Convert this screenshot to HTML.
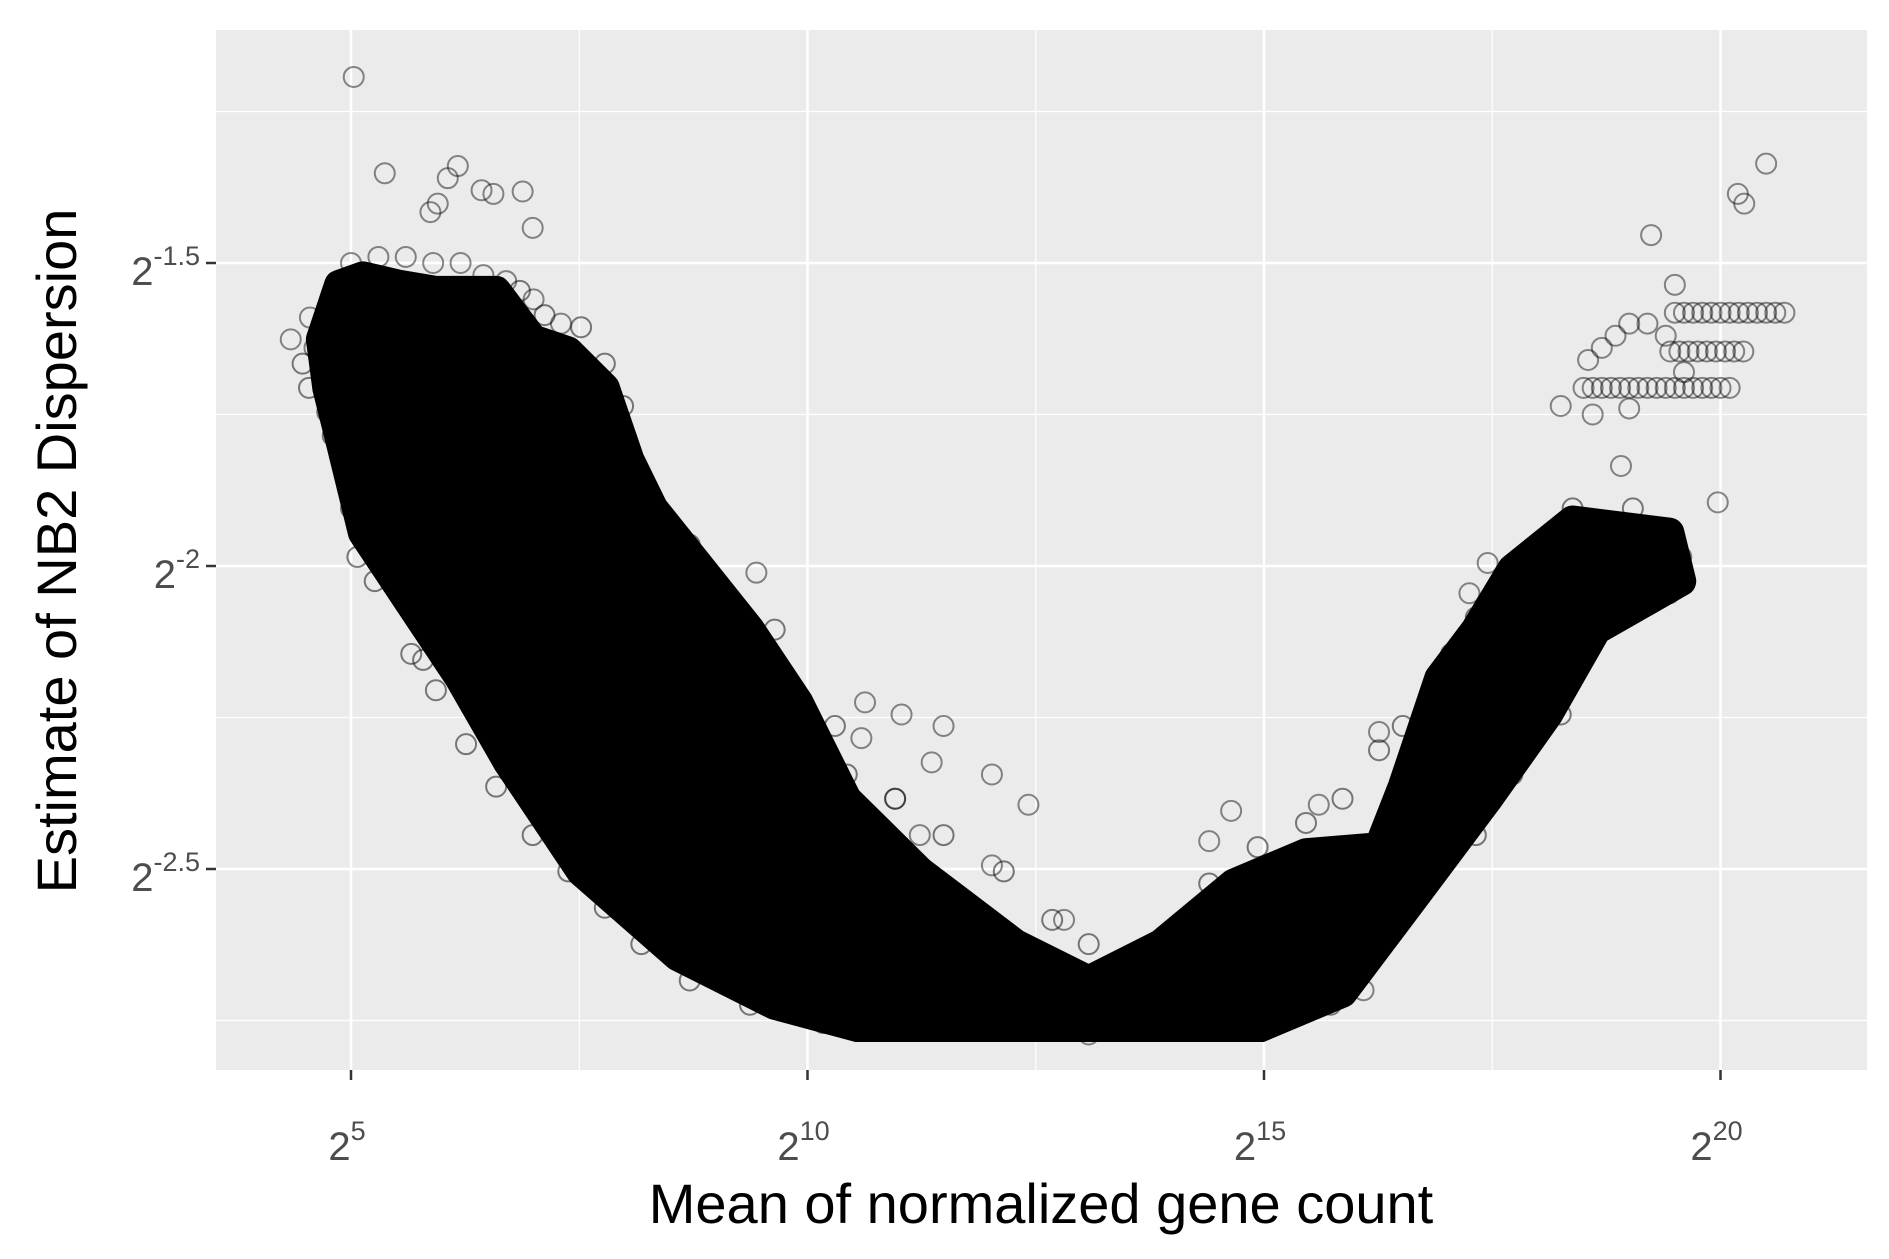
<!DOCTYPE html>
<html><head><meta charset="utf-8"><style>
html,body{margin:0;padding:0;background:#fff;}
svg{display:block;font-family:"Liberation Sans",sans-serif;}
</style></head><body>
<svg id="chart" width="1889" height="1259" viewBox="0 0 1889 1259" xmlns="http://www.w3.org/2000/svg">
<defs><clipPath id="floorClip"><rect x="216" y="30" width="1651" height="1012"/></clipPath></defs>
<rect x="216" y="30" width="1651" height="1040" fill="#ebebeb"/>
<g id="grid"></g>
<g id="marks"></g>
<g id="axes"></g>
<text x="1041" y="1223" font-size="56" text-anchor="middle" fill="#000">Mean of normalized gene count</text>
<text transform="translate(76,551) rotate(-90)" font-size="56" text-anchor="middle" fill="#000">Estimate of NB2 Dispersion</text>
</svg>
<script>
const xTicks = [5, 10, 15, 20];
const xTickLabels = ["5", "10", "15", "20"];
const yTicks = [-1.5, -2, -2.5];
const yTickLabels = ["-1.5", "-2", "-2.5"];
const xMinor = [7.5, 12.5, 17.5];
const yMinor = [-1.25, -1.75, -2.25, -2.75];
// dense mass envelope (log2 mean, log2 dispersion)
const envX = [4.67,4.87,5.13,5.53,5.93,6.59,6.99,7.38,7.78,8.05,8.31,8.84,9.37,9.90,10.43,11.23,12.28,13.08,13.87,14.67,15.46,16.26,16.52,16.92,17.32,17.72,18.38,19.44,19.57,18.64,18.11,17.45,16.66,15.86,14.93,13.08,10.70,9.64,8.58,7.52,6.72,6.19,5.66,5.13,4.87,4.74];
const envY = [-1.626,-1.536,-1.522,-1.536,-1.546,-1.546,-1.626,-1.646,-1.706,-1.825,-1.905,-2.005,-2.105,-2.225,-2.385,-2.504,-2.624,-2.684,-2.624,-2.524,-2.474,-2.464,-2.364,-2.185,-2.105,-2.005,-1.925,-1.945,-2.025,-2.105,-2.245,-2.385,-2.544,-2.704,-2.763,-2.773,-2.767,-2.724,-2.644,-2.504,-2.324,-2.185,-2.065,-1.945,-1.785,-1.706];
// fringe points around the dense mass
const fringeX = [4.47,4.54,4.74,4.80,5.00,5.07,5.26,5.66,5.79,5.93,6.26,6.59,6.99,7.38,7.78,8.18,8.71,9.37,10.17,
 6.85,7.12,7.52,7.78,7.98,8.18,8.38,8.71,8.97,9.24,9.64,9.77,10.30,10.43,10.96,11.49,12.15,12.68,13.08,
 14.40,14.93,15.46,15.86,16.26,16.52,17.05,17.32,17.85,18.38,19.04,19.57,19.44,18.77,18.38,18.25,17.72,17.32,16.92,16.39,15.73,15.20];
const fringeY = [-1.666,-1.706,-1.746,-1.785,-1.905,-1.985,-2.025,-2.145,-2.155,-2.205,-2.294,-2.364,-2.444,-2.504,-2.564,-2.624,-2.684,-2.724,-2.754,
 -1.546,-1.586,-1.606,-1.666,-1.736,-1.865,-1.925,-1.965,-2.025,-2.085,-2.105,-2.185,-2.264,-2.344,-2.384,-2.444,-2.504,-2.584,-2.624,
 -2.524,-2.464,-2.424,-2.384,-2.304,-2.264,-2.145,-2.085,-1.985,-1.905,-1.905,-1.985,-2.045,-2.085,-2.145,-2.245,-2.344,-2.444,-2.484,-2.584,-2.724,-2.744];
// scattered points
const ptX = [5.03,5.37,6.17,6.06,6.43,6.56,6.88,6.99,5.95,5.87,4.34,9.44,10.63,11.03,10.59,11.36,12.42,14.64,16.09,20.50,20.19,20.26,19.24,19.50,18.25,19.97,18.91,17.45,17.25,16.26,15.60,14.40,12.81,12.02,11.23,10.96,11.49,12.02,
 19.5,19.6,19.7,19.8,19.9,20.0,20.1,20.2,20.3,20.4,20.5,20.6,20.7,19.45,19.55,19.65,19.75,19.85,19.95,20.05,20.15,20.25,18.5,18.6,18.7,18.8,18.9,19.0,19.1,19.2,19.3,19.4,19.5,19.6,19.7,19.8,19.9,20.0,20.1,18.55,18.7,18.85,19.0,19.2,19.4,19.6,18.6,19.0,4.55,4.6,4.75,5.0,5.3,5.6,5.9,6.2,6.45,6.7,7.0,7.3];
const ptY = [-1.193,-1.352,-1.340,-1.360,-1.380,-1.386,-1.382,-1.442,-1.402,-1.416,-1.626,-2.011,-2.225,-2.245,-2.284,-2.324,-2.394,-2.404,-2.700,-1.336,-1.386,-1.402,-1.454,-1.536,-1.736,-1.895,-1.835,-1.995,-2.045,-2.274,-2.394,-2.454,-2.584,-2.494,-2.444,-2.384,-2.264,-2.344,
 -1.582,-1.582,-1.582,-1.582,-1.582,-1.582,-1.582,-1.582,-1.582,-1.582,-1.582,-1.582,-1.582,-1.646,-1.646,-1.646,-1.646,-1.646,-1.646,-1.646,-1.646,-1.646,-1.706,-1.706,-1.706,-1.706,-1.706,-1.706,-1.706,-1.706,-1.706,-1.706,-1.706,-1.706,-1.706,-1.706,-1.706,-1.706,-1.706,-1.66,-1.64,-1.62,-1.6,-1.6,-1.62,-1.68,-1.75,-1.74,-1.59,-1.64,-1.7,-1.5,-1.49,-1.49,-1.5,-1.5,-1.52,-1.53,-1.56,-1.6];

const NS = "http://www.w3.org/2000/svg";
const px0 = 351, pxPer = 91.3;
const py0 = 263, pyPer = 606;
const sx = v => px0 + (v - 5) * pxPer;
const sy = v => py0 - (v + 1.5) * pyPer;
function mk(tag, parent, attrs) { const e = document.createElementNS(NS, tag); for (const k in attrs) e.setAttribute(k, attrs[k]); parent.appendChild(e); return e; }

const grid = document.getElementById('grid');
xMinor.forEach(v => { const l = mk('line', grid, {x1: sx(v), x2: sx(v), y1: 30, y2: 1070, stroke: '#fff', 'stroke-width': 1.2});
  
   });
yMinor.forEach(v => { const l = mk('line', grid, {x1: 216, x2: 1867, y1: sy(v), y2: sy(v), stroke: '#fff', 'stroke-width': 1.2});
  
   });
xTicks.forEach(v => { const l = mk('line', grid, {x1: sx(v), x2: sx(v), y1: 30, y2: 1070, stroke: '#fff', 'stroke-width': 2.5});
  
   });
yTicks.forEach(v => { const l = mk('line', grid, {x1: 216, x2: 1867, y1: sy(v), y2: sy(v), stroke: '#fff', 'stroke-width': 2.5});
  
   });

const marks = document.getElementById('marks');
const pts = envX.map((x, i) => sx(x) + ',' + sy(envY[i])).join(' ');
const poly = mk('polygon', marks, {points: pts, fill: '#000', stroke: '#000', 'stroke-width': 30, 'stroke-linejoin': 'round', 'clip-path': 'url(#floorClip)'});


envX.forEach((x, i) => {
  const c = mk('circle', marks, {cx: sx(x), cy: sy(envY[i]), r: 10, fill: 'none', stroke: 'rgba(0,0,0,0.45)', 'stroke-width': 2});
  
  
});
fringeX.forEach((x, i) => {
  const c = mk('circle', marks, {cx: sx(x), cy: sy(fringeY[i]), r: 10, fill: 'none', stroke: 'rgba(0,0,0,0.5)', 'stroke-width': 2});
  
  
});
ptX.forEach((x, i) => {
  const c = mk('circle', marks, {cx: sx(x), cy: sy(ptY[i]), r: 10, fill: 'none', stroke: 'rgba(0,0,0,0.45)', 'stroke-width': 2});
  
  
});

const axes = document.getElementById('axes');
xTicks.forEach((v, i) => {
  const t = mk('line', axes, {x1: sx(v), x2: sx(v), y1: 1070, y2: 1080, stroke: '#333', 'stroke-width': 2.5});
  
  
  const tx = mk('text', axes, {x: sx(v) - 4, y: 1160, 'font-size': 40, fill: '#4d4d4d', 'text-anchor': 'middle'});
  
  
  tx.innerHTML = '2<tspan dy="-20" font-size="27">' + xTickLabels[i] + '</tspan>';
});
yTicks.forEach((v, i) => {
  const t = mk('line', axes, {x1: 206, x2: 216, y1: sy(v), y2: sy(v), stroke: '#333', 'stroke-width': 2.5});
  
  
  const tx = mk('text', axes, {x: 200, y: sy(v) + 22, 'font-size': 40, fill: '#4d4d4d', 'text-anchor': 'end'});
  
  
  tx.innerHTML = '2<tspan dy="-20" font-size="27">' + yTickLabels[i] + '</tspan>';
});
</script>
</body></html>
